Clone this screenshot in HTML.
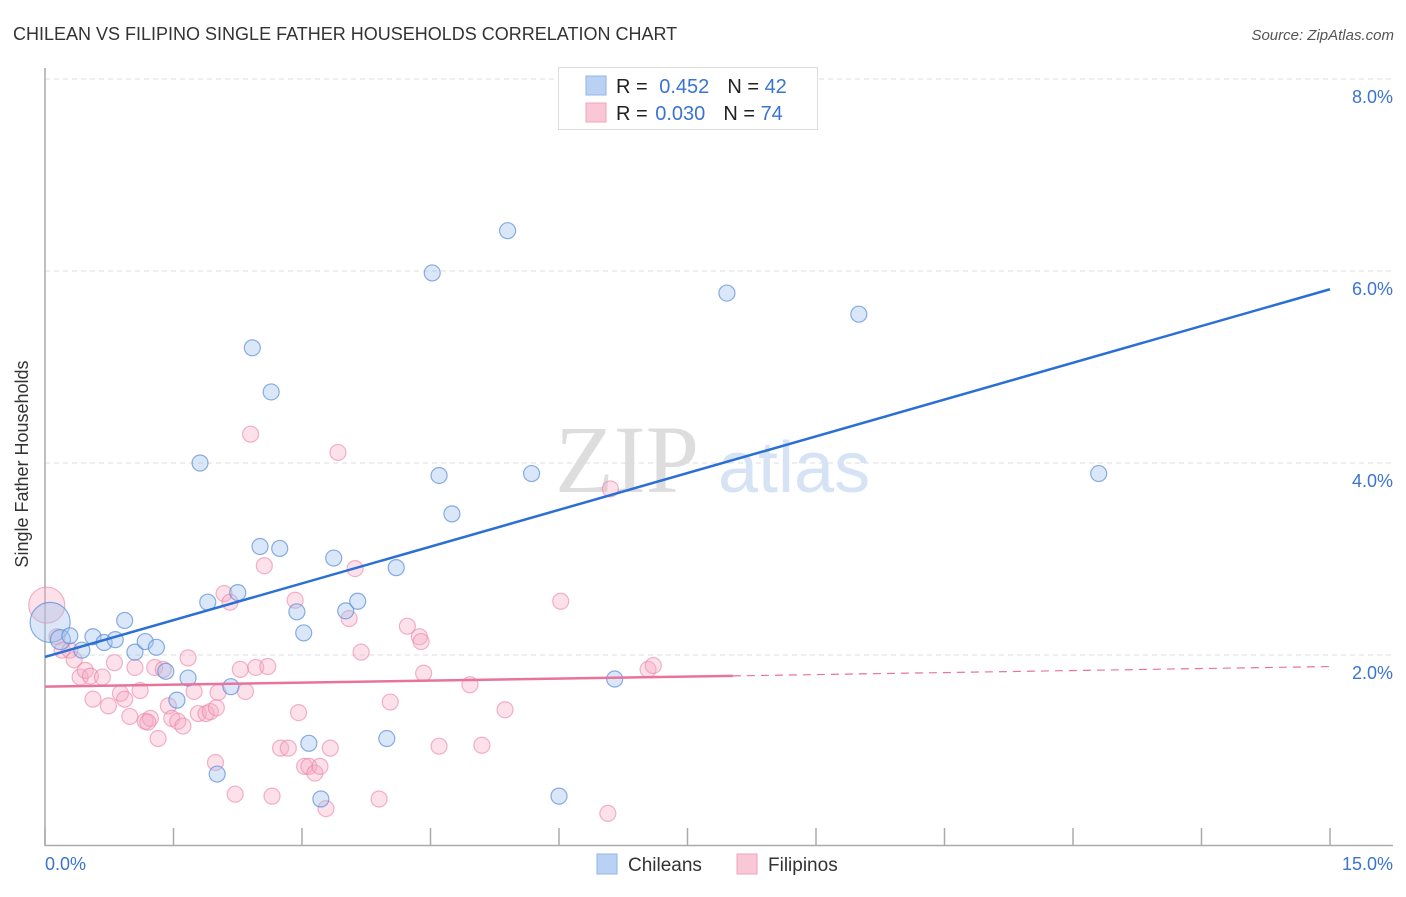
<!DOCTYPE html>
<html><head><meta charset="utf-8"><style>
body{margin:0;background:#fff;font-family:"Liberation Sans",sans-serif;}
</style></head><body>
<svg width="1406" height="892" xmlns="http://www.w3.org/2000/svg" font-family="Liberation Sans, sans-serif">
<text x="13" y="40" font-size="18" fill="#333">CHILEAN VS FILIPINO SINGLE FATHER HOUSEHOLDS CORRELATION CHART</text>
<text x="1394" y="40" font-size="15" fill="#555" font-style="italic" text-anchor="end">Source: ZipAtlas.com</text>
<g id="grid"></g>
<text x="555" y="492" font-size="96" font-family="Liberation Serif, serif" fill="#ddd">ZIP</text>
<text x="718" y="492" font-size="72" fill="#d5e3f5">atlas</text>
<line x1="45" y1="68" x2="45" y2="846" stroke="#aaa" stroke-width="1.5"/>
<line x1="45" y1="845.5" x2="1393" y2="845.5" stroke="#aaa" stroke-width="1.5"/>
<g id="xt"></g>
<g id="pts"></g>
<g id="lines"></g>
<text x="20" y="456" font-size="18" fill="#333" transform="rotate(-90 28 456)" text-anchor="middle">Single Father Households</text>
<text x="45" y="870" font-size="18" fill="#3a74d0">0.0%</text>
<text x="1393" y="870" font-size="18" fill="#3a74d0" text-anchor="end">15.0%</text>
<g>
<rect x="558.5" y="67.5" width="259" height="62" fill="#fff" stroke="#ddd"/>
<rect x="586" y="76" width="20" height="19" fill="#b9d2f4" stroke="#8fb4e6"/>
<rect x="586" y="103" width="20" height="19" fill="#f9c7d6" stroke="#f0a3bb"/>
<text x="616" y="93" font-size="20" fill="#222">R = <tspan fill="#3a74d0" dx="6">0.452</tspan><tspan dx="18">N = </tspan><tspan fill="#3a74d0">42</tspan></text>
<text x="616" y="120" font-size="20" fill="#222">R = <tspan fill="#3a74d0" dx="2">0.030</tspan><tspan dx="18">N = </tspan><tspan fill="#3a74d0">74</tspan></text>
</g>
<g>
<rect x="597" y="854" width="20" height="20" fill="#b9d2f4" stroke="#8fb4e6"/>
<text x="628" y="871" font-size="19" fill="#333">Chileans</text>
<rect x="737" y="854" width="20" height="20" fill="#f9c7d6" stroke="#f0a3bb"/>
<text x="768" y="871" font-size="19" fill="#333">Filipinos</text>
</g>
</svg>
<script>
const yTicks=[2,4,6,8];
const yTickLabels=["2.0%","4.0%","6.0%","8.0%"];
const xTickVals=[0,1.5,3,4.5,6,7.5,9,10.5,12,13.5,15];
const blueX=[0.06,0.18,0.29,0.56,0.43,0.69,0.82,0.93,1.05,1.17,1.30,1.41,1.54,1.67,1.81,1.90,2.01,2.17,2.25,2.42,2.51,2.64,2.74,2.94,3.02,3.08,3.22,3.37,3.51,3.65,3.99,4.10,4.52,4.60,4.75,5.40,5.68,6.00,6.65,7.96,9.50,12.30];
const blueY=[2.34,2.16,2.20,2.19,2.05,2.13,2.16,2.36,2.03,2.14,2.08,1.83,1.53,1.76,4.00,2.55,0.76,1.67,2.65,5.20,3.13,4.74,3.11,2.45,2.23,1.08,0.50,3.01,2.46,2.56,1.13,2.91,5.98,3.87,3.47,6.42,3.89,0.53,1.75,5.77,5.55,3.89];
const blueR=[20,10,8,8,8,8,8,8,8,8,8,8,8,8,8,8,8,8,8,8,8,8,8,8,8,8,8,8,8,8,8,8,8,8,8,8,8,8,8,8,8,8];
const pinkX=[0.02,0.14,0.20,0.29,0.34,0.41,0.47,0.53,0.56,0.67,0.74,0.81,0.88,0.93,0.99,1.05,1.11,1.17,1.23,1.28,1.32,1.38,1.44,1.48,1.55,1.61,1.67,1.74,1.79,1.88,1.93,1.99,2.02,2.09,2.16,2.22,2.28,2.34,2.40,2.46,2.56,2.60,2.65,2.75,2.84,2.92,2.96,3.03,3.08,3.15,3.21,3.28,3.33,3.42,3.55,3.62,3.69,3.90,4.03,4.23,4.37,4.39,4.42,4.60,4.96,5.10,5.37,6.02,6.60,6.57,7.04,7.10,2.00,1.20];
const pinkY=[2.52,2.19,2.05,2.05,1.95,1.77,1.84,1.78,1.54,1.77,1.47,1.92,1.60,1.54,1.36,1.87,1.63,1.31,1.34,1.87,1.13,1.85,1.47,1.34,1.31,1.26,1.97,1.62,1.39,1.39,1.41,0.88,1.61,2.64,2.55,0.55,1.85,1.62,4.30,1.87,2.93,1.88,0.53,1.03,1.03,2.57,1.40,0.84,0.84,0.77,0.84,0.40,1.03,4.11,2.38,2.90,2.03,0.50,1.51,2.30,2.19,2.14,1.81,1.05,1.69,1.06,1.43,2.56,3.73,0.35,1.85,1.89,1.45,1.30];
const pinkR=[18,8,8,8,8,8,8,8,8,8,8,8,8,8,8,8,8,8,8,8,8,8,8,8,8,8,8,8,8,8,8,8,8,8,8,8,8,8,8,8,8,8,8,8,8,8,8,8,8,8,8,8,8,8,8,8,8,8,8,8,8,8,8,8,8,8,8,8,8,8,8,8,8,8];
const blueTrend=[1.98,5.81];
const pinkTrend=[1.67,1.88];
const pinkSolidEnd=8.03;
const NS="http://www.w3.org/2000/svg";
const sx=v=>45+v/15*1285;
const sy=v=>847-v*96;
function mk(tag,attrs,parent){const e=document.createElementNS(NS,tag);for(const k in attrs)e.setAttribute(k,attrs[k]);parent.appendChild(e);return e;}
const grid=document.getElementById('grid');
yTicks.forEach((t,i)=>{
 const l=mk('line',{x1:45,x2:1393,y1:sy(t),y2:sy(t),stroke:'#ddd','stroke-dasharray':'5,4'},grid);
 
 
 const tx=mk('text',{x:1393,y:sy(t)+24,'font-size':18,fill:'#3a74d0','text-anchor':'end'},grid);
 tx.textContent=yTickLabels[i];
 
 
});
const xt=document.getElementById('xt');
xTickVals.forEach(v=>{
 const l=mk('line',{x1:sx(v),x2:sx(v),y1:828,y2:845,stroke:'#aaa','stroke-width':1.5},xt);
 
 
});
const pts=document.getElementById('pts');
pinkX.forEach((v,i)=>{
 const c=mk('circle',{cx:sx(v),cy:sy(pinkY[i]),r:pinkR[i],fill:'rgba(245,170,195,0.35)',stroke:'rgba(235,130,165,0.6)','stroke-width':1.2},pts);
 
 
});
blueX.forEach((v,i)=>{
 const c=mk('circle',{cx:sx(v),cy:sy(blueY[i]),r:blueR[i],fill:'rgba(160,195,240,0.4)',stroke:'rgba(90,140,215,0.7)','stroke-width':1.2},pts);
 
 
});
const lines=document.getElementById('lines');
const bl=mk('line',{x1:sx(0),y1:sy(blueTrend[0]),x2:sx(15),y2:sy(blueTrend[1]),stroke:'#2a6fd6','stroke-width':2.5},lines);


const pm=pinkTrend[0]+(pinkTrend[1]-pinkTrend[0])*pinkSolidEnd/15;
const pl=mk('line',{x1:sx(0),y1:sy(pinkTrend[0]),x2:sx(pinkSolidEnd),y2:sy(pm),stroke:'#e8739b','stroke-width':2.5},lines);


const pd=mk('line',{x1:sx(pinkSolidEnd),y1:sy(pm),x2:sx(15),y2:sy(pinkTrend[1]),stroke:'#e8739b','stroke-width':1.2,'stroke-dasharray':'8,6'},lines);


</script>
</body></html>
